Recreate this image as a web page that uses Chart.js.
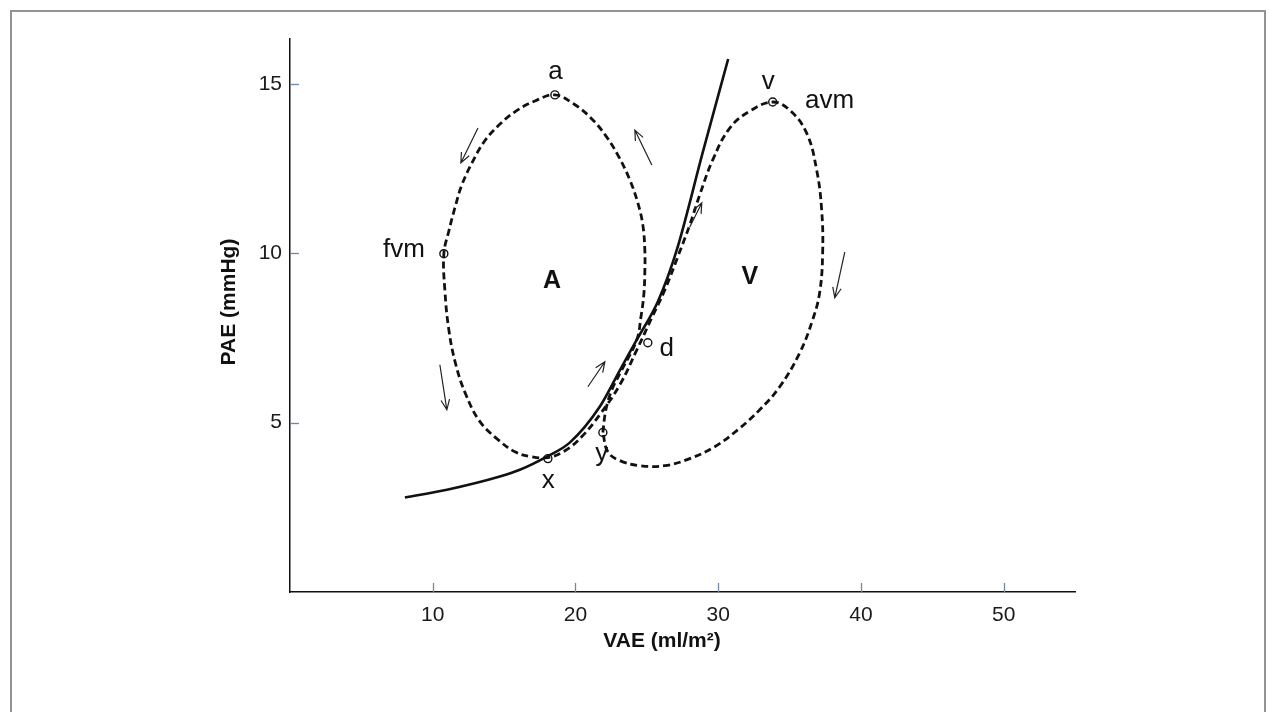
<!DOCTYPE html>
<html>
<head>
<meta charset="utf-8">
<script src="https://cdn.jsdelivr.net/npm/chart.js"></script>
<style>
  html, body { margin: 0; padding: 0; background: #fff; }
  #wrap { position: relative; width: 1269px; height: 712px; overflow: hidden; }
  #frame { position: absolute; left: 10px; top: 10px; width: 1256px; height: 760px; border: 2px solid #939393; box-sizing: border-box; }
  canvas { position: absolute; left: 0; top: 0; }
</style>
</head>
<body>
<div id="wrap">
  <div id="frame"></div>
  <canvas id="chart" width="1269" height="712"></canvas>
</div>
<script>
// pressure-volume relation (solid line)
const curveVAE = [8.05, 11.0, 14.7, 16.1, 18.0, 19.6, 21.7, 23.1, 24.3, 25.8, 27.1, 28.9, 30.7];
const curvePAE = [2.79, 3.02, 3.41, 3.61, 4.00, 4.41, 5.47, 6.54, 7.45, 8.6, 10.1, 12.95, 15.74];

// atrial loop (dashed), starts and ends at y
const loopVAE = [21.92, 22.13, 22.55, 23.25, 24.30, 24.58, 24.79, 24.86, 24.86, 24.72, 24.37, 23.81, 23.04, 22.13,
  21.08, 19.89, 18.56, 17.16, 15.83, 14.64, 13.59, 12.75, 12.04, 11.55, 11.13, 10.78, 10.85, 11.13, 11.62, 12.32,
  13.31, 14.57, 15.76, 16.81, 18.07, 19.26, 20.45, 21.71, 23.11, 24.30, 25.35, 26.26, 27.17, 28.01, 28.71, 29.62,
  30.81, 32.21, 33.82, 35.01, 36.20, 36.90, 37.25, 37.32, 37.11, 36.62, 35.71, 34.31, 32.91, 31.37, 29.76, 28.01,
  26.26, 24.51, 23.11, 22.27, 21.92];
const loopPAE = [4.71, 5.38, 5.97, 6.56, 7.45, 8.10, 8.78, 9.45, 10.10, 10.84, 11.49, 12.17, 12.85, 13.47,
  14.00, 14.41, 14.68, 14.50, 14.20, 13.79, 13.29, 12.67, 12.02, 11.34, 10.66, 9.99, 8.92, 7.74, 6.71, 5.83,
  5.03, 4.50, 4.14, 4.00, 3.97, 4.17, 4.59, 5.24, 6.12, 7.15, 8.10, 8.92, 9.90, 10.84, 11.73, 12.76,
  13.70, 14.20, 14.47, 14.23, 13.55, 12.46, 11.28, 10.01, 8.84, 8.04, 7.06, 6.06, 5.38, 4.79, 4.29, 3.94,
  3.73, 3.73, 3.88, 4.14, 4.71];

// marked points a, v, fvm, x, y, d
const pointVAE = [18.56, 33.82, 10.78, 18.07, 21.92, 25.07];
const pointPAE = [14.68, 14.47, 9.99, 3.94, 4.71, 7.36];

// text labels
const labelText = ['a', 'v', 'avm', 'fvm', 'A', 'V', 'd', 'x', 'y'];
const labelVAE = [18.6, 33.5, 37.8, 7.98, 18.35, 32.21, 26.4, 18.1, 21.85];
const labelPAE = [15.37, 15.07, 14.51, 10.09, 9.19, 9.31, 7.19, 3.28, 4.09];
const labelBold = [false, false, false, false, true, true, false, false, false];

// direction arrows (from -> to)
const arrowFromVAE = [13.17, 10.50, 25.35, 20.87, 28.01, 38.87];
const arrowFromPAE = [13.70, 6.71, 12.61, 6.06, 10.78, 10.04];
const arrowToVAE = [11.97, 10.99, 24.16, 22.06, 28.85, 38.17];
const arrowToPAE = [12.67, 5.38, 13.64, 6.80, 11.49, 8.69];

const xTicks = [10, 20, 30, 40, 50];
const yTicks = [5, 10, 15];

const FONT = "'Liberation Sans', Arial, sans-serif";
Chart.defaults.font.family = FONT;

function pairs(xs, ys) {
  return xs.map((v, i) => ({ x: v, y: ys[i] }));
}

const overlay = {
  id: 'overlay',
  afterDatasetsDraw(chart) {
    const { ctx, chartArea } = chart;
    const sx = chart.scales.x, sy = chart.scales.y;
    ctx.save();

    // inner tick marks
    ctx.strokeStyle = '#6f88a8';
    ctx.lineWidth = 1.3;
    xTicks.forEach(v => {
      const px = Math.round(sx.getPixelForValue(v)) + 0.5;
      ctx.beginPath();
      ctx.moveTo(px, chartArea.bottom);
      ctx.lineTo(px, chartArea.bottom - 9);
      ctx.stroke();
    });
    yTicks.forEach(v => {
      const py = Math.round(sy.getPixelForValue(v)) + 0.5;
      ctx.beginPath();
      ctx.moveTo(chartArea.left, py);
      ctx.lineTo(chartArea.left + 9, py);
      ctx.stroke();
    });

    // arrows
    ctx.strokeStyle = '#222';
    ctx.lineWidth = 1.2;
    arrowFromVAE.forEach((v, i) => {
      const x1 = sx.getPixelForValue(v), y1 = sy.getPixelForValue(arrowFromPAE[i]);
      const x2 = sx.getPixelForValue(arrowToVAE[i]), y2 = sy.getPixelForValue(arrowToPAE[i]);
      const ang = Math.atan2(y2 - y1, x2 - x1);
      ctx.beginPath();
      ctx.moveTo(x1, y1);
      ctx.lineTo(x2, y2);
      ctx.moveTo(x2 - 11 * Math.cos(ang - 0.4), y2 - 11 * Math.sin(ang - 0.4));
      ctx.lineTo(x2, y2);
      ctx.lineTo(x2 - 11 * Math.cos(ang + 0.4), y2 - 11 * Math.sin(ang + 0.4));
      ctx.stroke();
    });

    // labels
    ctx.fillStyle = '#111';
    ctx.textAlign = 'center';
    ctx.textBaseline = 'middle';
    labelText.forEach((t, i) => {
      ctx.font = (labelBold[i] ? 'bold 25px ' : '26px ') + FONT;
      ctx.fillText(t, sx.getPixelForValue(labelVAE[i]), sy.getPixelForValue(labelPAE[i]));
    });

    // axis titles
    ctx.font = 'bold 21px ' + FONT;
    ctx.fillText('VAE (ml/m²)', 662, 641);
    ctx.translate(229, 302);
    ctx.rotate(-Math.PI / 2);
    ctx.fillText('PAE (mmHg)', 0, 0);
    ctx.restore();
  }
};

new Chart(document.getElementById('chart'), {
  type: 'scatter',
  data: {
    datasets: [
      {
        label: 'points',
        data: pairs(pointVAE, pointPAE),
        pointRadius: 4,
        pointBorderWidth: 1.4,
        pointBorderColor: '#111',
        pointBackgroundColor: 'rgba(0,0,0,0)',
        showLine: false
      },
      {
        label: 'loop',
        data: pairs(loopVAE, loopPAE),
        showLine: true,
        borderColor: '#111',
        borderWidth: 2.8,
        borderDash: [7, 4],
        tension: 0.4,
        pointRadius: 0
      },
      {
        label: 'curve',
        data: pairs(curveVAE, curvePAE),
        showLine: true,
        borderColor: '#111',
        borderWidth: 2.6,
        cubicInterpolationMode: 'monotone',
        pointRadius: 0
      }
    ]
  },
  options: {
    responsive: false,
    animation: false,
    devicePixelRatio: 1,
    layout: { padding: { left: 218, top: 39, right: 194, bottom: 0 } },
    plugins: { legend: { display: false }, tooltip: { enabled: false } },
    scales: {
      x: {
        type: 'linear',
        min: 0,
        max: 55,
        afterBuildTicks: s => { s.ticks = xTicks.map(v => ({ value: v })); },
        afterFit: s => { s.height = 120; },
        grid: { display: true, drawOnChartArea: false, drawTicks: false },
        border: { display: true, color: '#111', width: 1.5 },
        ticks: { color: '#1a1a1a', font: { size: 21 }, padding: 11, maxRotation: 0 }
      },
      y: {
        type: 'linear',
        min: 0,
        max: 16.33,
        afterBuildTicks: s => { s.ticks = yTicks.map(v => ({ value: v })); },
        afterFit: s => { s.width = 72; },
        grid: { display: true, drawOnChartArea: false, drawTicks: false },
        border: { display: true, color: '#111', width: 1.5 },
        ticks: { color: '#1a1a1a', font: { size: 21 }, padding: 8 }
      }
    }
  },
  plugins: [overlay]
});
</script>
</body>
</html>
